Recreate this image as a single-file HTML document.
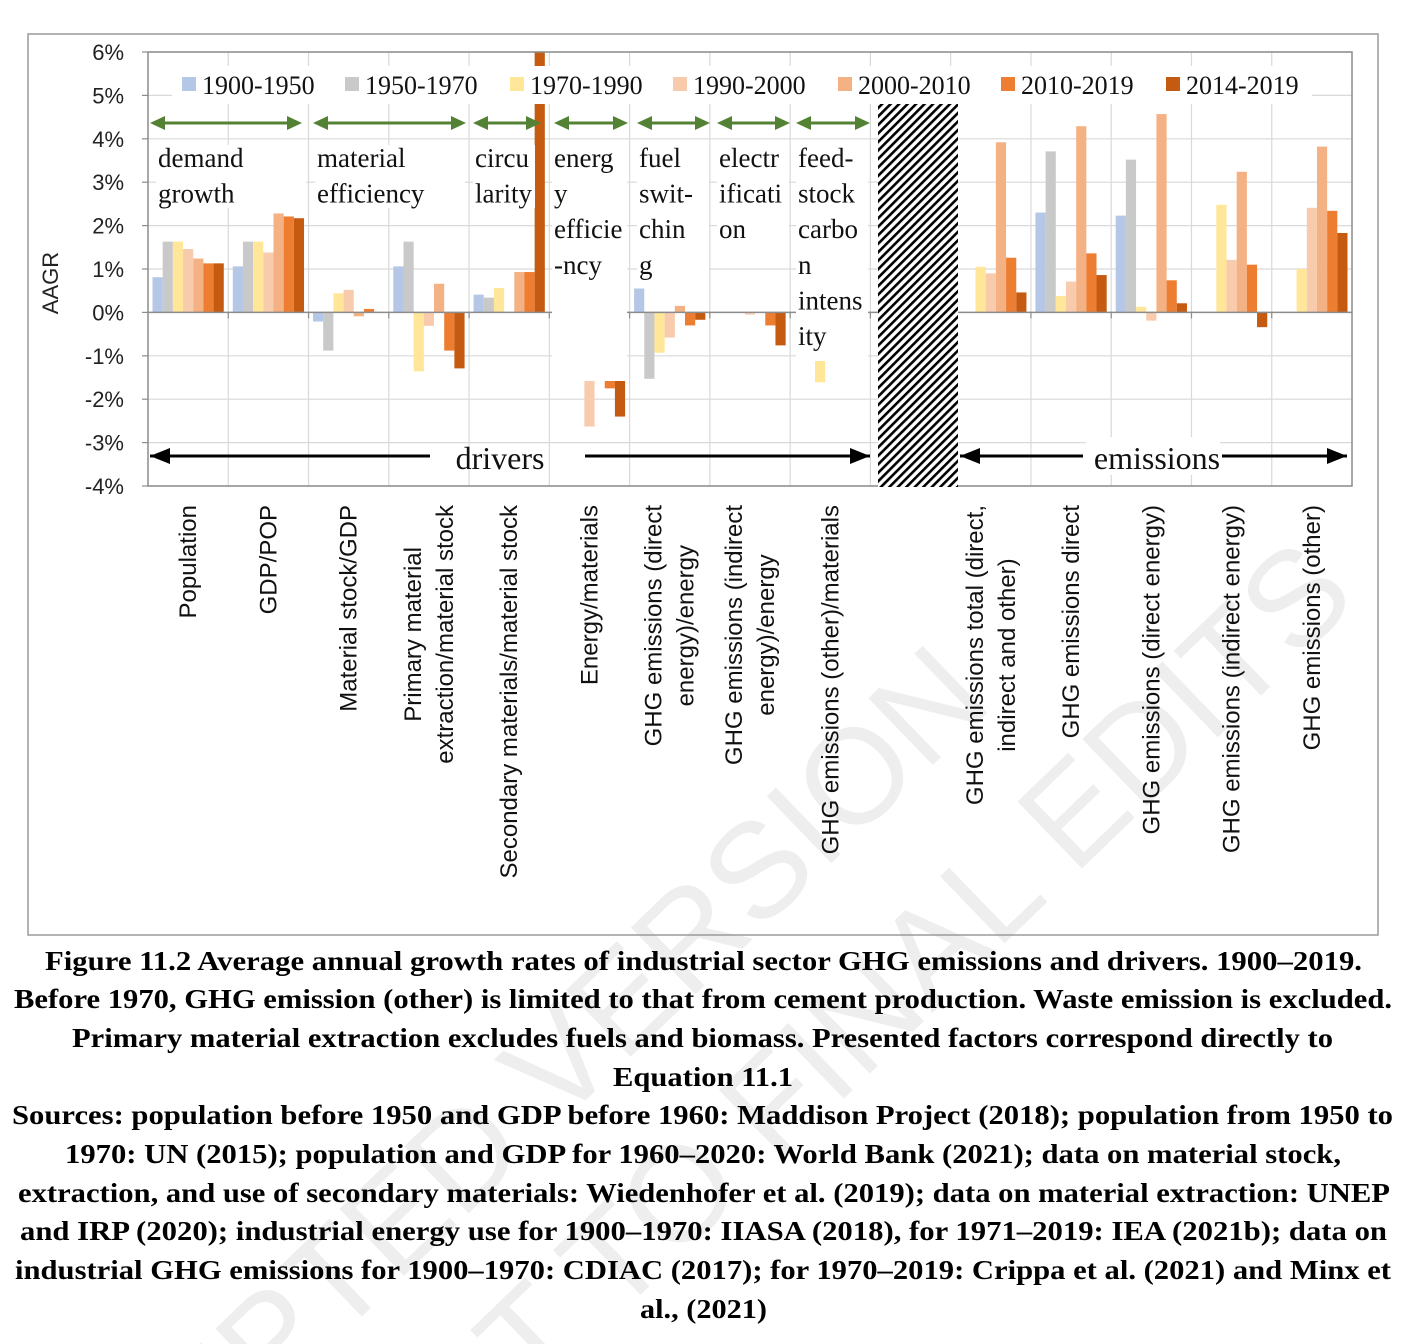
<!DOCTYPE html>
<html><head><meta charset="utf-8"><style>
html,body{margin:0;padding:0;background:#fff;overflow:hidden;width:1408px;height:1344px;}
svg{display:block;}
</style></head><body>
<svg id="chart" width="1408" height="1344" viewBox="0 0 1408 1344" xmlns="http://www.w3.org/2000/svg">
<defs>
<pattern id="hatch" patternUnits="userSpaceOnUse" width="6" height="6" patternTransform="rotate(-45)">
<rect width="6" height="6" fill="#fff"/><rect width="6" height="2.6" fill="#000"/>
</pattern>
<clipPath id="pageclip"><rect x="0" y="0" width="1408" height="1344"/></clipPath>
</defs>
<g clip-path="url(#pageclip)" font-family="Liberation Sans, sans-serif" font-size="135" fill="#eeeeee">
<text x="995" y="705" text-anchor="end" transform="rotate(-44 995 705)">ACCEPTED VERSION</text>
<text x="1360" y="600" text-anchor="end" transform="rotate(-44 1360 600)">SUBJECT TO FINAL EDITS</text>
</g>
<rect x="28" y="34" width="1350" height="901" fill="none" stroke="#9a9a9a" stroke-width="1.5"/>
<g id="grid"></g>
<g id="bars"></g>
<g id="axes"></g>
<g id="overlay"></g>
<g id="caption" font-family="Liberation Serif, serif" font-weight="bold" font-size="27" fill="#000"></g>
</svg>
<script>
const categories = ["Population","GDP/POP","Material stock/GDP","Primary material extraction/material stock","Secondary materials/material stock","Energy/materials","GHG emissions (direct energy)/energy","GHG emissions (indirect energy)/energy","GHG emissions (other)/materials","","GHG emissions total (direct, indirect and other)","GHG emissions direct","GHG emissions (direct energy)","GHG emissions (indirect energy)","GHG emissions (other)"];
const seriesNames = ["1900-1950","1950-1970","1970-1990","1990-2000","2000-2010","2010-2019","2014-2019"];
const s1900 = [0.81,1.06,-0.21,1.06,0.41,null,0.55,null,null,null,null,2.30,2.23,null,null];
const s1950 = [1.63,1.63,-0.88,1.63,0.34,null,-1.53,null,null,null,null,3.71,3.52,null,null];
const s1970 = [1.63,1.63,0.44,-1.36,0.56,-1.57,-0.93,null,-1.61,null,1.05,0.38,0.13,2.48,1.00];
const s1990 = [1.46,1.38,0.52,-0.31,null,-2.63,-0.58,-0.05,null,null,0.90,0.71,-0.19,1.21,2.41];
const s2000 = [1.24,2.28,-0.09,0.66,0.93,-1.0,0.15,null,null,null,3.92,4.29,4.57,3.24,3.82];
const s2010 = [1.13,2.21,0.08,-0.88,0.93,-1.75,-0.30,-0.30,null,null,1.26,1.36,0.74,1.10,2.34];
const s2014 = [1.13,2.17,null,-1.29,7.0,-2.40,-0.17,-0.76,null,null,0.46,0.86,0.21,-0.34,1.83];
const yTicks = [6,5,4,3,2,1,0,-1,-2,-3,-4];
const seriesValues = [s1900,s1950,s1970,s1990,s2000,s2010,s2014];
const colors = ["#b4c7e7","#c9c9c9","#ffe699","#f8cbad","#f4b183","#ed7d31","#c55a11"];
const NS="http://www.w3.org/2000/svg";
const PL=148, PR=1352, PT=52, PB=486, YMIN=-4, YMAX=6;
function yS(v){return PB-(v-YMIN)/(YMAX-YMIN)*(PB-PT);}
const catW=(PR-PL)/categories.length;
function xC(i){return PL+i*catW;}
function mk(tag,attrs,parent){const e=document.createElementNS(NS,tag);for(const k in attrs)e.setAttribute(k,attrs[k]);parent.appendChild(e);return e;}
const grid=document.getElementById('grid'),bars=document.getElementById('bars'),axes=document.getElementById('axes'),ov=document.getElementById('overlay'),cap=document.getElementById('caption');
yTicks.forEach(t=>{const l=mk('line',{x1:PL,x2:PR,y1:yS(t),y2:yS(t),stroke:'#d9d9d9','stroke-width':1.2},grid);

});
for(let i=1;i<categories.length;i++){const l=mk('line',{x1:xC(i),x2:xC(i),y1:PT,y2:PB,stroke:'#d9d9d9','stroke-width':1.2},grid);

}
const bw=(catW-9)/7;
seriesValues.forEach((arr,j)=>{arr.forEach((v,i)=>{if(v===null)return;
const vv=Math.max(YMIN,Math.min(YMAX,v));
const x=xC(i)+4.5+j*bw;const y0=yS(0),y1=yS(vv);
const r=mk('rect',{x:x,y:Math.min(y0,y1),width:bw,height:Math.abs(y1-y0),fill:colors[j]},bars);

});});
mk('rect',{x:PL,y:PT,width:PR-PL,height:PB-PT,fill:'none',stroke:'#8c8c8c','stroke-width':1.5},axes);
mk('line',{x1:PL,x2:PR,y1:yS(0),y2:yS(0),stroke:'#8c8c8c','stroke-width':1.5},axes);
for(let i=1;i<categories.length;i++)mk('line',{x1:xC(i),x2:xC(i),y1:yS(0),y2:yS(0)+6,stroke:'#8c8c8c','stroke-width':1.2},axes);
yTicks.forEach(t=>{mk('line',{x1:PL-6,x2:PL,y1:yS(t),y2:yS(t),stroke:'#8c8c8c','stroke-width':1.2},axes);
const tx=mk('text',{x:124,y:yS(t)+8,'text-anchor':'end','font-family':'Liberation Sans, sans-serif','font-size':22,fill:'#222'},axes);
tx.textContent=t+'%';

});
const yt=mk('text',{x:58,y:283,'text-anchor':'middle','font-family':'Liberation Sans, sans-serif','font-size':22,fill:'#222',transform:'rotate(-90 58 283)'},axes);
yt.textContent='AAGR';


const catLines=[["Population"],["GDP/POP"],["Material stock/GDP"],["Primary material","extraction/material stock"],["Secondary materials/material stock"],["Energy/materials"],["GHG emissions (direct","energy)/energy"],["GHG emissions (indirect","energy)/energy"],["GHG emissions (other)/materials"],[],["GHG emissions total (direct,","indirect and other)"],["GHG emissions direct"],["GHG emissions (direct energy)"],["GHG emissions (indirect energy)"],["GHG emissions (other)"]];
catLines.forEach((lines,i)=>{if(!lines.length)return;const cx=xC(i)+catW/2;const n=lines.length;
const els=[];
lines.forEach((ln,k)=>{const x=cx+(k-(n-1)/2)*32+8;
const t=mk('text',{x:x,y:0,'text-anchor':'middle','font-family':'Liberation Sans, sans-serif','font-size':24,fill:'#111'},axes);
t.textContent=ln;


els.push([t,x]);});
let maxL=0;els.forEach(e=>{maxL=Math.max(maxL,e[0].getComputedTextLength());});
const cy=505+maxL/2;
els.forEach(e=>{e[0].setAttribute('y',cy);e[0].setAttribute('transform','rotate(-90 '+e[1]+' '+cy+')');});});
const hb=mk('rect',{x:878,y:104,width:80,height:383,fill:'url(#hatch)'},ov);


mk('rect',{x:172,y:66,width:1140,height:38,fill:'#fff'},ov);
const legX=[182,345,510,673,838,1001,1166];
seriesNames.forEach((n,j)=>{const sw=mk('rect',{x:legX[j],y:77,width:14,height:14,fill:colors[j]},ov);


const t=mk('text',{x:legX[j]+20,y:94,'font-family':'Liberation Serif, serif','font-size':26,fill:'#111'},ov);
t.textContent=n;

});
const arrows=[[150,302],[313,466],[473,541],[554,628],[637,710],[717,790],[796,870]];
arrows.forEach(a=>{const g=mk('g',{},ov);


mk('line',{x1:a[0]+12,x2:a[1]-12,y1:123,y2:123,stroke:'#548235','stroke-width':3},g);
mk('polygon',{points:`${a[0]},123 ${a[0]+15},116 ${a[0]+15},130`,fill:'#548235'},g);
mk('polygon',{points:`${a[1]},123 ${a[1]-15},116 ${a[1]-15},130`,fill:'#548235'},g);});
const boxes=[[156,145,150,63,["demand","growth"]],[315,145,150,63,["material","efficiency"]],[473,145,62,63,["circu","larity"]],[552,141,75,240,["energ","y","efficie","-ncy"]],[637,141,72,146,["fuel","swit-","chin","g"]],[717,141,72,110,["electr","ificati","on"]],[796,141,72,220,["feed-","stock","carbo","n","intens","ity"]]];
boxes.forEach(b=>{const g=mk('g',{},ov);


mk('rect',{x:b[0],y:b[1],width:b[2],height:b[3],fill:'#fff'},g);
b[4].forEach((ln,k)=>{const t=mk('text',{x:b[0]+2,y:167+k*35.6,'font-family':'Liberation Serif, serif','font-size':27,fill:'#111'},g);t.textContent=ln;});});
function bigArrow(x1,x2,dir){mk('line',{x1:x1,x2:x2,y1:456,y2:456,stroke:'#000','stroke-width':3},ov);
const tip=dir<0?x1:x2;mk('polygon',{points:`${tip},456 ${tip-dir*20},448 ${tip-dir*20},464`,fill:'#000'},ov);}
bigArrow(150,430,-1);bigArrow(585,870,1);bigArrow(960,1083,-1);bigArrow(1222,1347,1);
mk('rect',{x:1086,y:437,width:134,height:38,fill:'#fff'},ov);
const dt=mk('text',{x:500,y:469,'text-anchor':'middle','font-family':'Liberation Serif, serif','font-size':32,fill:'#111'},ov);
dt.textContent='drivers';


const et=mk('text',{x:1157,y:469,'text-anchor':'middle','font-family':'Liberation Serif, serif','font-size':32,fill:'#111'},ov);
et.textContent='emissions';


const capLines=[["Figure 11.2 Average annual growth rates of industrial sector GHG emissions and drivers. 1900\u20132019.",45,1362],
["Before 1970, GHG emission (other) is limited to that from cement production. Waste emission is excluded.",14,1392],
["Primary material extraction excludes fuels and biomass. Presented factors correspond directly to",72,1333],
["Equation 11.1",613,793],
["Sources: population before 1950 and GDP before 1960: Maddison Project (2018); population from 1950 to",12,1393],
["1970: UN (2015); population and GDP for 1960\u20132020: World Bank (2021); data on material stock,",65,1341],
["extraction, and use of secondary materials: Wiedenhofer et al. (2019); data on material extraction: UNEP",18,1390],
["and IRP (2020); industrial energy use for 1900\u20131970: IIASA (2018), for 1971\u20132019: IEA (2021b); data on",20,1387],
["industrial GHG emissions for 1900\u20131970: CDIAC (2017); for 1970\u20132019: Crippa et al. (2021) and Minx et",15,1391],
["al., (2021)",640,767]];
const capY=[970,1008,1047,1086,1124,1163,1202,1240,1279,1318];
capLines.forEach((c,k)=>{const t=mk('text',{x:c[1],y:capY[k],textLength:c[2]-c[1],lengthAdjust:'spacingAndGlyphs'},cap);
t.textContent=c[0];

});
</script>
</body></html>
